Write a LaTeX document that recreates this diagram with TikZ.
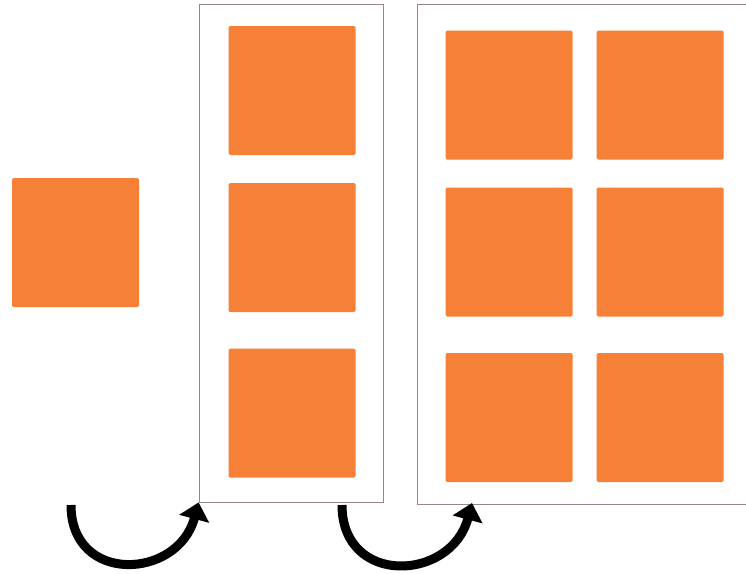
\documentclass[tikz,border=0pt]{standalone}
\usepackage{xcolor}
\usepackage{tikz}
\usetikzlibrary{arrows.meta,positioning,calc}

\definecolor{tile}{RGB}{246,128,56}
\definecolor{rim}{RGB}{150,135,135}

\begin{document}
\begin{tikzpicture}[
   x=1pt, y=-1pt,
   cell/.style={fill=tile,rounded corners=1.5pt,minimum width=127pt,minimum height=129pt,inner sep=0pt},
   frame/.style={draw=rim,line width=0.8pt,inner sep=0pt},
   turn/.style={line width=9pt,-{Triangle[width=30pt,length=17pt]}}]
  \useasboundingbox (0,0) rectangle (746,573);
  \clip (0,0) rectangle (746,573);
  % frames
  \node[frame,minimum width=184pt,minimum height=498pt] (mid) at (291,253) {};
  \node[frame,minimum width=400pt,minimum height=500pt] (big) at (617,254) {};
  % single tile
  \node[cell] (one) at (75.5,242.5) {};
  % column of three
  \node[cell] (m1) at (292,90.5) {};
  \node[cell] (m2) at (292,247.5) {};
  \node[cell] (m3) at (292,413) {};
  % two columns of three
  \foreach \c/\x in {1/509,2/660}
    \foreach \r/\y in {1/95,2/252,3/417.5}
      \node[cell] (g\c\r) at (\x,\y) {};
  % turning arrows
  \coordinate (s1) at (71,505);
  \coordinate (s2) at (342,505);
  \coordinate (t2) at (472,503);
  \draw[turn] (s1) to[out=-90,in=-105,looseness=1.6] (mid.south west);
  \draw[turn] (s2) to[out=-90,in=-105,looseness=1.6] (t2);
\end{tikzpicture}
\end{document}
